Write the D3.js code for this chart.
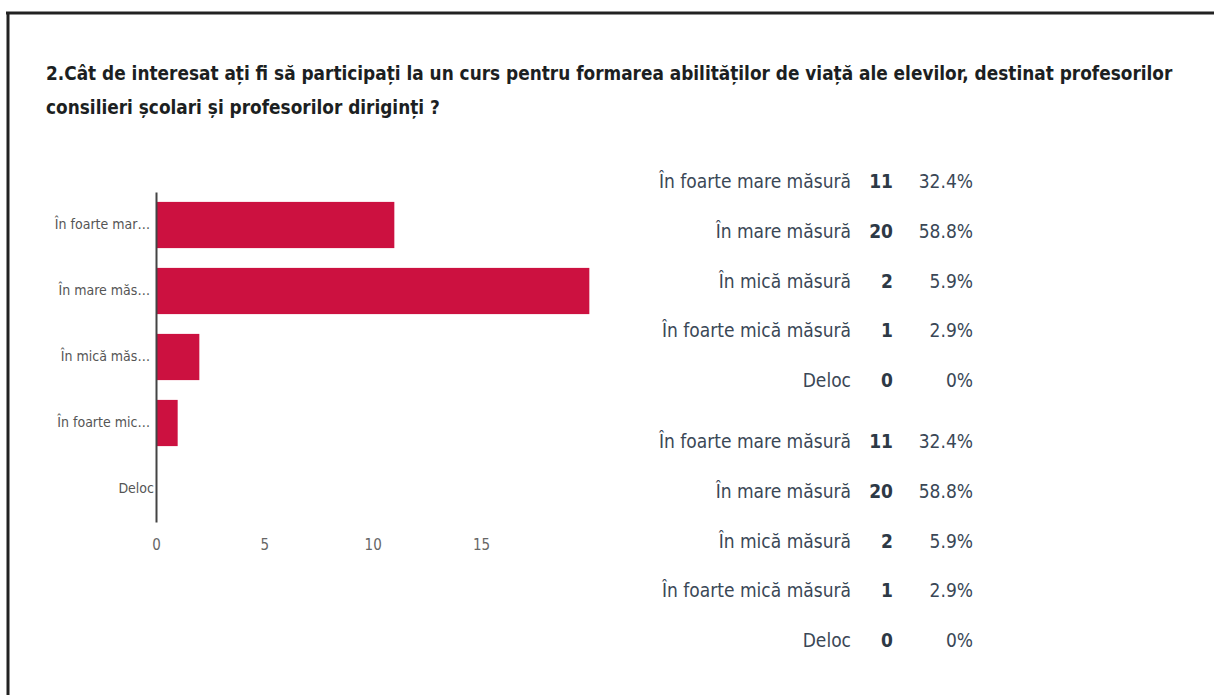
<!DOCTYPE html>
<html>
<head>
<meta charset="utf-8">
<script src="https://cdn.jsdelivr.net/npm/d3@7"></script>
<style>
  body { margin: 0; background: #fff; }
  svg { display: block; }
  .narrow { font-family: "Liberation Sans Narrow", "DejaVu Sans Condensed", "Liberation Sans", sans-serif; font-stretch: condensed; }
</style>
</head>
<body>
<div id="chart"></div>
<script>
const titleLines = [
  "2.Cât de interesat ați fi să participați la un curs pentru formarea abilităților de viață ale elevilor, destinat profesorilor",
  "consilieri școlari și profesorilor diriginți ?"
];
const categories = ["În foarte mare măsură", "În mare măsură", "În mică măsură", "În foarte mică măsură", "Deloc"];
const axisLabels = ["În foarte mar…", "În mare măs…", "În mică măs…", "În foarte mic…", "Deloc"];
const counts = [11, 20, 2, 1, 0];
const xTicks = [0, 5, 10, 15];

const W = 1214, H = 695;
const svg = d3.select("#chart").append("svg")
  .attr("width", W)
  .attr("height", H);

svg.append("rect").attr("width", W).attr("height", H).attr("fill", "#fff");

// scanned frame
svg.append("line").attr("x1", 6).attr("y1", 13).attr("x2", W).attr("y2", 13)
  .attr("stroke", "#222").attr("stroke-width", 3);
svg.append("line").attr("x1", 8).attr("y1", 12).attr("x2", 8).attr("y2", H)
  .attr("stroke", "#222").attr("stroke-width", 3);

// title, sized so the first line spans the same width as in the capture
const titleWidth = 1127;
const title = svg.selectAll(".title")
  .data(titleLines)
  .enter()
  .append("text")
  .attr("class", "title narrow")
  .attr("x", 46)
  .attr("y", function (d, i) { return 80 + i * 34; })
  .style("font-size", "22px")
  .style("font-weight", "bold")
  .style("fill", "#1c1f22")
  .text(function (d) { return d; });
const natural = title.node().getComputedTextLength();
title.style("font-size", (22 * titleWidth / natural).toFixed(2) + "px");

// bar chart
const x = d3.scaleLinear().domain([0, 15]).range([156, 481]);
const y = d3.scaleBand().domain(categories).range([192, 522]).paddingInner(0.3).paddingOuter(0.15);

svg.selectAll(".bar")
  .data(counts)
  .enter()
  .append("rect")
  .attr("class", "bar")
  .attr("x", x(0))
  .attr("y", function (d, i) { return y(categories[i]); })
  .attr("width", function (d) { return x(d) - x(0); })
  .attr("height", y.bandwidth())
  .style("fill", "#cc1140");

const xAxis = svg.append("g")
  .attr("transform", "translate(0,522)")
  .call(d3.axisBottom(x).tickValues(xTicks).tickSize(0).tickPadding(17));
xAxis.select(".domain").remove();
xAxis.selectAll("text")
  .attr("class", "narrow")
  .style("font-size", "15px")
  .style("fill", "#666");

const yAxis = svg.append("g")
  .attr("transform", "translate(" + x(0) + ",0)")
  .call(d3.axisLeft(y).tickSize(0).tickPadding(6).tickFormat(function (d, i) { return axisLabels[i]; }));
yAxis.select(".domain")
  .attr("stroke", "#444")
  .attr("stroke-width", 2);
yAxis.selectAll("text")
  .attr("class", "narrow")
  .style("font-size", "14px")
  .style("fill", "#555");
yAxis.selectAll(".tick").filter(function (d) { return d === "Deloc"; })
  .select("text").attr("x", -2);

// summary table (appears twice in the capture)
const total = d3.sum(counts);
const fmt = function (v) { return v === 0 ? "0%" : d3.format(".1f")(v / total * 100) + "%"; };
const rowY = d3.scaleLinear().domain([0, 4]).range([0, 199]);
const groupTops = [181, 441];

groupTops.forEach(function (top) {
  const row = svg.append("g")
    .selectAll(".row")
    .data(categories)
    .enter()
    .append("g")
    .attr("transform", function (d, i) { return "translate(0," + (top + rowY(i) + 7) + ")"; });

  row.append("text")
    .attr("class", "narrow")
    .attr("x", 851)
    .attr("text-anchor", "end")
    .style("font-size", "19px")
    .style("fill", "#3a4756")
    .text(function (d) { return d; });

  row.append("text")
    .attr("class", "narrow")
    .attr("x", 893)
    .attr("text-anchor", "end")
    .style("font-size", "19px")
    .style("font-weight", "bold")
    .style("fill", "#2d3946")
    .text(function (d, i) { return counts[i]; });

  row.append("text")
    .attr("class", "narrow")
    .attr("x", 973)
    .attr("text-anchor", "end")
    .style("font-size", "19px")
    .style("fill", "#3a4756")
    .text(function (d, i) { return fmt(counts[i]); });
});
</script>
</body>
</html>
